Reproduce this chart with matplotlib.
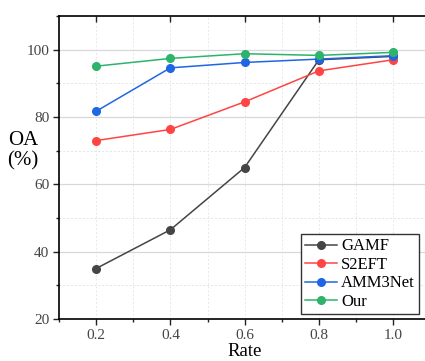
import matplotlib
matplotlib.use("Agg")
import matplotlib.pyplot as plt
import matplotlib.lines as mlines
from matplotlib.ticker import MultipleLocator

rates = [0.2, 0.4, 0.6, 0.8, 1.0]
gamf = [35.0, 46.5, 65.0, 97.0, 98.0]
s2eft = [73.0, 76.3, 84.5, 93.7, 97.0]
amm3net = [81.7, 94.6, 96.2, 97.2, 98.2]
our = [95.1, 97.4, 98.8, 98.3, 99.2]

names = ["GAMF", "S2EFT", "AMM3Net", "Our"]
series = [gamf, s2eft, amm3net, our]
colors = ["#454545", "#ff4444", "#1f66e5", "#2db36b"]

plt.rcParams['font.family'] = ['Liberation Serif', 'DejaVu Serif']

fig = plt.figure(figsize=(4.25, 3.61), dpi=100)
ax = fig.add_axes([59/425, 1-319/361, 371.25/425, (319-16)/361])

for n, s, c in zip(names, series, colors):
    ax.plot(rates, s, color=c, marker='o', markersize=5.5, linewidth=1.1, label=n)

ax.set_xlim(0.1, 1.1)
ax.set_ylim(20, 110)
ax.xaxis.set_minor_locator(MultipleLocator(0.1))
ax.yaxis.set_major_locator(MultipleLocator(20))
ax.yaxis.set_minor_locator(MultipleLocator(10))
ax.set_xticks(rates)
ax.set_xticklabels(["0.2", "0.4", "0.6", "0.8", "1.0"])

ax.grid(which='major', axis='y', color='#d8d8d8', linewidth=0.9, linestyle='-')
ax.grid(which='minor', axis='y', color='#e4e4e4', linewidth=0.7, linestyle=(0, (2, 2)))
ax.grid(which='both', axis='x', color='#e8e8e8', linewidth=0.7, linestyle=(0, (2, 2)))
ax.set_axisbelow(True)

ax.tick_params(which='major', direction='out', length=4, width=1, labelsize=11, pad=3,
               colors='#222222', labelcolor='#444444')
ax.tick_params(which='minor', direction='out', length=2.5, width=1, colors='#222222')
ax.tick_params(axis='x', which='minor', top=False)
ax.tick_params(axis='x', which='major', top=True)

for sp in ax.spines.values():
    sp.set_linewidth(1.2)

ax.set_xlabel("Rate", fontsize=13.5, labelpad=1)
fig.text(23/425, 1-140/361, "OA", fontsize=15, ha='center', va='center')
fig.text(23/425, 1-161/361, "(%)", fontsize=15, ha='center', va='center')

leg = ax.legend(loc='lower right', bbox_to_anchor=(419/425, 47/361), bbox_transform=fig.transFigure,
                borderaxespad=0, fancybox=False, framealpha=1, edgecolor='#333333',
                fontsize=12, handlelength=1.9, handletextpad=0.25, labelspacing=0.15, borderpad=0.25)
leg.get_frame().set_linewidth(1.0)

fig.canvas.draw()
# top major ticks point inward
for t in ax.xaxis.get_major_ticks():
    t.tick2line.set_marker(mlines.TICKDOWN)

fig.savefig("out.png", dpi=100)
